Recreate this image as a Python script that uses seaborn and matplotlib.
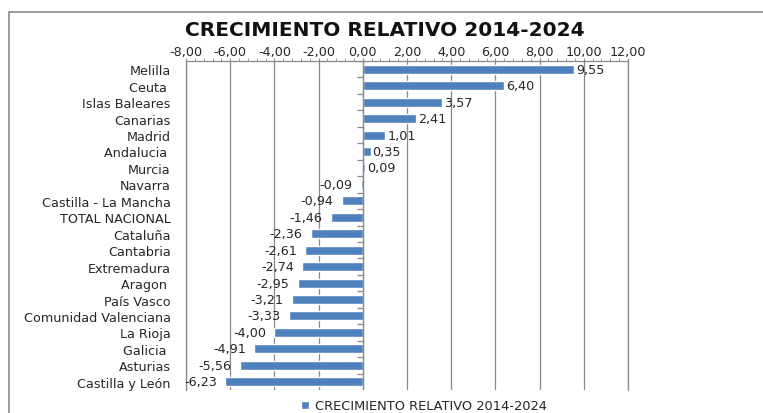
import numpy as np
import pandas as pd
import seaborn as sns
import matplotlib.pyplot as plt
from matplotlib.patches import Rectangle
from matplotlib.ticker import MultipleLocator, FuncFormatter

# data
regions = ["Melilla", "Ceuta ", "Islas Baleares", "Canarias", "Madrid", "Andalucia ",
           "Murcia", "Navarra", "Castilla - La Mancha", "TOTAL NACIONAL", "Cataluña",
           "Cantabria", "Extremadura", "Aragon ", "País Vasco", "Comunidad Valenciana",
           "La Rioja", "Galicia ", "Asturias", "Castilla y León"]
growth = [9.55, 6.40, 3.57, 2.41, 1.01, 0.35, 0.09, -0.09, -0.94, -1.46, -2.36,
          -2.61, -2.74, -2.95, -3.21, -3.33, -4.00, -4.91, -5.56, -6.23]
series_name = "CRECIMIENTO RELATIVO 2014-2024"
title = "CRECIMIENTO RELATIVO 2014-2024"

df = pd.DataFrame({"region": regions, "growth": growth})

sns.set_style("white")
plt.rcParams['font.family'] = ['DejaVu Sans']
txt = "#262626"
grid_c = "#888888"
bar_c = "#4F81BD"
fs = 9.2

def comma(v, pos=None):
    return f"{v:.2f}".replace(".", ",")

fig = plt.figure(figsize=(7.63, 4.14), dpi=100)
# outer chart frame (cut off on the right and bottom like the reference)
fig.patches.append(Rectangle((9 / 763, -0.05), 1.1, 1.05 - 12.5 / 414, transform=fig.transFigure,
                             fill=False, edgecolor="#8a8a8a", lw=1.2))

ax = fig.add_axes([186 / 763, 1 - 391 / 414, (628 - 186) / 763, (391 - 62) / 414])
sns.barplot(data=df, x="growth", y="region", color=bar_c, saturation=1,
            width=0.55, orient="h", ax=ax)

ax.set_xlim(-8, 12)
ax.set_ylim(len(regions) - 0.5, -0.5)
ax.xaxis.tick_top()
ax.xaxis.set_major_locator(MultipleLocator(2))
ax.xaxis.set_minor_locator(MultipleLocator(0.4))
ax.xaxis.set_major_formatter(FuncFormatter(comma))
ax.tick_params(axis="x", which="both", direction="out", color=grid_c, labelsize=fs,
               labelcolor=txt, pad=0.5, length=2)
ax.tick_params(axis="y", length=0, pad=11, labelsize=fs, labelcolor=txt)
ax.grid(axis="x", color=grid_c, lw=0.9)
ax.set_axisbelow(True)
for side in ["left", "right", "top"]:
    ax.spines[side].set_color(grid_c)
    ax.spines[side].set_linewidth(0.9)
ax.spines["bottom"].set_visible(False)
ax.set_xlabel("")
ax.set_ylabel("")

# vertical category axis crossing at zero, with small tick marks
ax.axvline(0, color=grid_c, lw=0.9, zorder=3)
ax.hlines(np.arange(len(regions) + 1) - 0.5, -0.25, 0, color=grid_c, lw=0.9, zorder=3)

# data labels
for i, v in enumerate(growth):
    off = 1.5 if v >= 0 else -6
    ax.annotate(comma(v), (v, i), xytext=(off, 0), textcoords="offset points",
                ha="left" if v >= 0 else "right", va="center", fontsize=fs, color=txt)

fig.text(385 / 763, 1 - 30 / 414, title, ha="center", va="center",
         fontsize=14.5, fontweight="bold", color="#111111")

fig.legend(handles=[ax.containers[0]], labels=[series_name], loc="center",
           bbox_to_anchor=(424 / 763, 1 - 407 / 414), frameon=False, fontsize=9.4,
           handlelength=0.6, handleheight=0.6, handletextpad=0.4, labelcolor=txt)

fig.savefig("out.png", dpi=100)
